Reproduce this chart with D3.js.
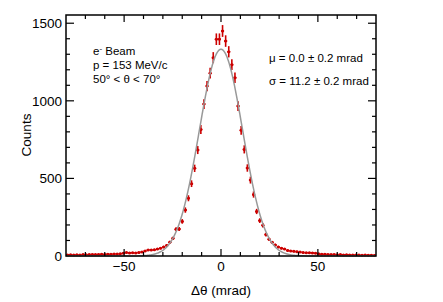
<!DOCTYPE html>
<html><head><meta charset="utf-8">
<script src="https://cdn.jsdelivr.net/npm/d3@7/dist/d3.min.js"></script>
<style>body{margin:0;background:#fff}svg{display:block}text{font-family:"Liberation Sans",Arial,sans-serif}</style>
</head><body>
<script>
// ---- data ----
const binStart = -80, binWidth = 1.6;
const counts = [
 7,8,6,8,7,9,8,9,10,9,10,11,10,12,11,13,
 13,15,18,22,20,21,20,22,26,32,39,38,40,45,50,58,68,89,114,172,174,223,296,372,466,565,683,815,979,1095,1178,1278,1397,1397,
 1450,1385,1316,1233,1149,966,810,687,567,489,396,287,228,198,138,108,88,71,58,50,45,36,33,30,28,25,22,21,21,20,18,14,12,11,10,9,10,8,9,7,8,7,6,7,6,5,6,5,5,4
];
const fitMu = 0.0, fitSigma = 11.2, fitAmp = 1332;
const xTicks = [-50, 0, 50];
const yTicks = [0, 500, 1000, 1500];
const infoLeft = ["p = 153 MeV/c", "50° < θ < 70°"];
const infoRight = ["μ = 0.0 ± 0.2 mrad", "σ = 11.2 ± 0.2 mrad"];

const W = 443, H = 302;
const L = 66, R = 376, T = 15, B = 256;
const svg = d3.select("body").append("svg").attr("width", W).attr("height", H);
const x = d3.scaleLinear().domain([-80, 80]).range([L, R]);
const y = d3.scaleLinear().domain([0, 1553]).range([B, T]);

const bins = counts.map((c, i) => ({lo: binStart + i*binWidth, hi: binStart + (i+1)*binWidth, c: c, xc: binStart + (i+0.5)*binWidth}));

const red = "#cc0000";
const g = svg.append("g");
// error bars
bins.forEach(b => {
  const e = Math.sqrt(b.c);
  g.append("line").attr("x1", x(b.lo)).attr("x2", x(b.hi)).attr("y1", y(b.c)).attr("y2", y(b.c))
    .attr("stroke", red).attr("stroke-width", 1.6);
  g.append("line").attr("x1", x(b.xc)).attr("x2", x(b.xc)).attr("y1", y(Math.max(0,b.c - e))).attr("y2", y(b.c + e))
    .attr("stroke", red).attr("stroke-width", 1.6);
});
g.selectAll("circle").data(bins).join("circle")
  .attr("cx", d => x(d.xc)).attr("cy", d => y(d.c)).attr("r", 1.5).attr("fill", red);

// fit curve
const xs = d3.range(-80, 80.01, 0.25);
const line = d3.line().x(d => x(d)).y(d => y(fitAmp*Math.exp(-0.5*((d-fitMu)/fitSigma)**2)));
svg.append("path").datum(xs).attr("d", line).attr("fill", "none").attr("stroke", "#999").attr("stroke-width", 1.5);

// frame
svg.append("rect").attr("x", L).attr("y", T).attr("width", R-L).attr("height", B-T)
  .attr("fill", "none").attr("stroke", "#000").attr("stroke-width", 1.5);

// ticks
const ax = svg.append("g").attr("stroke", "#000").attr("stroke-width", 1.2);
d3.range(-70, 80, 10).forEach(v => {
  const len = (v % 50 === 0) ? 7 : 4;
  ax.append("line").attr("x1", x(v)).attr("x2", x(v)).attr("y1", B).attr("y2", B-len);
  ax.append("line").attr("x1", x(v)).attr("x2", x(v)).attr("y1", T).attr("y2", T+len);
});
d3.range(100, 1553, 100).forEach(v => {
  const len = (v % 500 === 0) ? 8 : 4;
  ax.append("line").attr("x1", L).attr("x2", L+len).attr("y1", y(v)).attr("y2", y(v));
  ax.append("line").attr("x1", R).attr("x2", R-len).attr("y1", y(v)).attr("y2", y(v));
});

// tick labels
svg.selectAll(".xt").data(xTicks).join("text").attr("class","xt")
  .attr("x", d => x(d)).attr("y", 271).attr("text-anchor", "middle").attr("font-size", 13.5)
  .text(d => d < 0 ? "\u2212" + Math.abs(d) : d);
svg.selectAll(".yt").data(yTicks).join("text").attr("class","yt")
  .attr("x", 62).attr("y", d => y(d) + 5).attr("text-anchor", "end").attr("font-size", 13.5)
  .text(d => d);

// axis titles
svg.append("text").attr("x", 221).attr("y", 295).attr("text-anchor", "middle").attr("font-size", 13.5).text("Δθ (mrad)");
svg.append("text").attr("transform", "translate(31,135) rotate(-90)").attr("text-anchor", "middle").attr("font-size", 13.5).text("Counts");

// annotations
const t1 = svg.append("text").attr("x", 93).attr("y", 55).attr("font-size", 11.5);
t1.append("tspan").text("e");
t1.append("tspan").attr("dy", -4).attr("font-size", 8).text("-");
t1.append("tspan").attr("dy", 4).text(" Beam");
infoLeft.forEach((s, i) => svg.append("text").attr("x", 93).attr("y", 69 + i*14).attr("font-size", 11.5).text(s));
infoRight.forEach((s, i) => svg.append("text").attr("x", 269).attr("y", 62 + i*23).attr("font-size", 11.5).text(s));
</script>
</body></html>
